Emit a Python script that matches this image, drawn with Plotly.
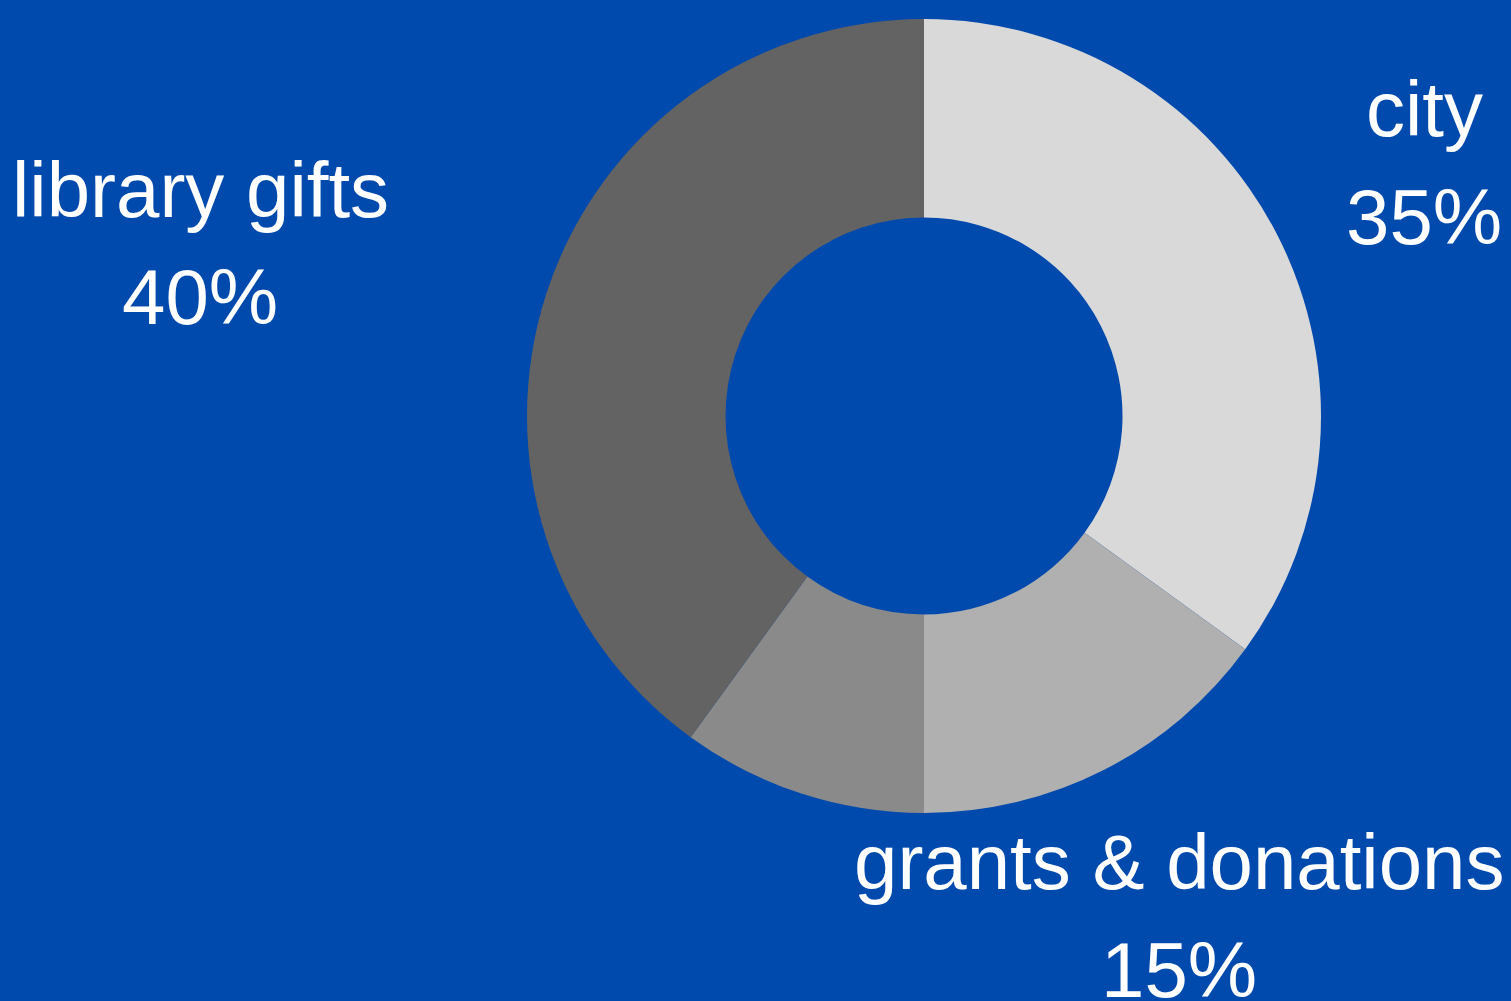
import plotly.graph_objects as go

# Data
labels = ["city", "grants & donations", "other", "library gifts"]
values = [35, 15, 10, 40]
colors = ["#d9d9d9", "#b0b0b0", "#8a8a8a", "#636363"]
shown_labels = ["city", "grants & donations", "library gifts"]

W, H = 1511, 1001
cx, cy, r = 924, 416, 397

fig = go.Figure(go.Pie(
    labels=labels,
    values=values,
    marker=dict(colors=colors, line=dict(width=0)),
    hole=0.5,
    sort=False,
    direction="clockwise",
    rotation=0,
    textinfo="none",
    hoverinfo="label+percent",
    showlegend=False,
    domain=dict(x=[(cx - r) / W, (cx + r) / W],
                y=[(H - cy - r) / H, (H - cy + r) / H]),
))

# label line centres (pixels) for the labeled slices
label_pos = {
    "city": (1424, 109, 217),
    "library gifts": (200, 190, 297),
    "grants & donations": (1179, 862, 970),
}

font = dict(family="Liberation Sans, Arial, sans-serif", size=78, color="#ffffff")
annotations = []
for name in shown_labels:
    v = values[labels.index(name)]
    x, y1, y2 = label_pos[name]
    for txt, yy in ((name, y1), (f"{v}%", y2)):
        annotations.append(dict(
            text=txt, x=x / W, y=1 - yy / H, xref="paper", yref="paper",
            xanchor="center", yanchor="middle", showarrow=False, font=font,
        ))

fig.update_layout(
    width=W, height=H,
    margin=dict(l=0, r=0, t=0, b=0),
    paper_bgcolor="#004aad",
    plot_bgcolor="#004aad",
    annotations=annotations,
)

fig.write_html(
    "out.html",
    config={"displayModeBar": False},
    post_script="document.body.style.margin='0';document.body.style.overflow='hidden';",
)
